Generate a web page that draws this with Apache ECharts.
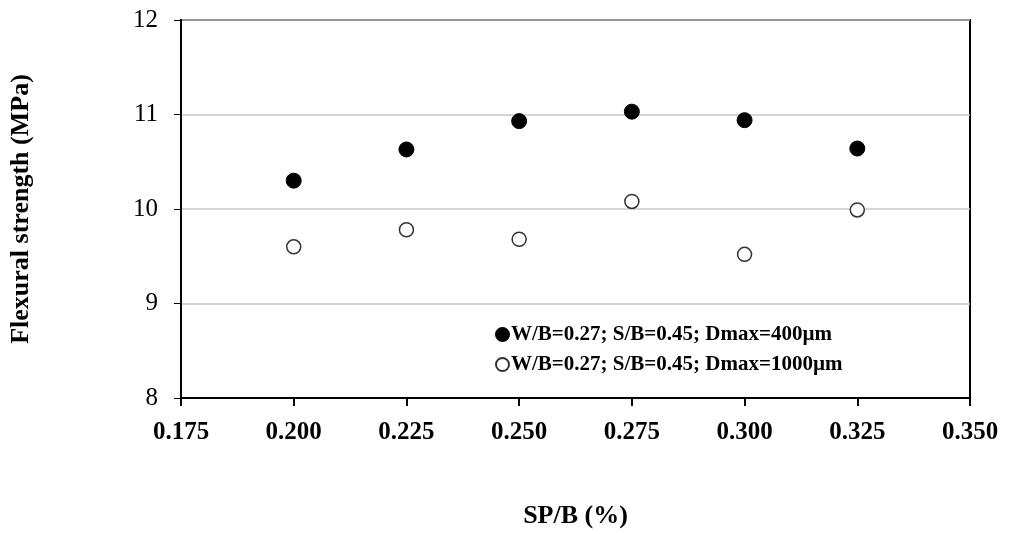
<!DOCTYPE html>
<html><head><meta charset="utf-8">
<script src="https://cdn.jsdelivr.net/npm/echarts@6/dist/echarts.min.js"></script>
<style>html,body{margin:0;padding:0;background:#fff}#c{width:1010px;height:534px}</style>
</head><body><div id="c"></div>
<script>
const xValues = [0.200, 0.225, 0.250, 0.275, 0.300, 0.325];
const series400 = [10.30, 10.63, 10.93, 11.03, 10.94, 10.64];
const series1000 = [9.60, 9.78, 9.68, 10.08, 9.52, 9.99];
const seriesNames = ['W/B=0.27; S/B=0.45; Dmax=400µm', 'W/B=0.27; S/B=0.45; Dmax=1000µm'];
const xTitle = 'SP/B (%)';
const yTitle = 'Flexural strength (MPa)';

const font = '"Liberation Serif","Times New Roman",serif';
const chart = echarts.init(document.getElementById('c'));
chart.setOption({
  animation: false,
  grid: {left: 180, right: 40, top: 20, bottom: 135, show: true, borderColor: '#000', borderWidth: 2, backgroundColor: 'transparent'},
  legend: {
    orient: 'vertical', left: 490, top: 319, itemGap: 9, itemWidth: 13, itemHeight: 13,
    textStyle: {fontFamily: font, fontWeight: 'bold', fontSize: 21, color: '#000', padding: [0, 0, 0, -3]},
    data: [{name: seriesNames[0], icon: 'circle'}, {name: seriesNames[1], icon: 'circle'}]
  },
  xAxis: {
    type: 'value', min: 0.175, max: 0.35, interval: 0.025,
    name: xTitle, nameLocation: 'middle', nameGap: 105,
    nameTextStyle: {fontFamily: font, fontWeight: 'bold', fontSize: 26, color: '#000'},
    axisLine: {show: true, lineStyle: {color: '#000', width: 2}},
    axisTick: {show: true, length: 8, lineStyle: {color: '#000', width: 2}},
    axisLabel: {fontFamily: font, fontWeight: 'bold', fontSize: 25, color: '#000', margin: 22, formatter: v => v.toFixed(3)},
    splitLine: {show: false}
  },
  yAxis: {
    type: 'value', min: 8, max: 12, interval: 1,
    name: yTitle, nameLocation: 'middle', nameGap: 147, nameRotate: 90,
    nameTextStyle: {fontFamily: font, fontWeight: 'bold', fontSize: 26, color: '#000'},
    axisLine: {show: true, lineStyle: {color: '#000', width: 2}},
    axisTick: {show: true, length: 7, lineStyle: {color: '#000', width: 1}},
    axisLabel: {fontFamily: font, fontSize: 25, color: '#000', margin: 23},
    splitLine: {show: true, lineStyle: {color: '#c8c8c8', width: 1.5}}
  },
  series: [
    {name: seriesNames[0], type: 'scatter', symbol: 'circle', symbolSize: 15,
     itemStyle: {color: '#000', borderColor: '#000', borderWidth: 1, opacity: 1},
     data: xValues.map((x, i) => [x, series400[i]])},
    {name: seriesNames[1], type: 'scatter', symbol: 'circle', symbolSize: 14,
     itemStyle: {color: '#fff', borderColor: '#333', borderWidth: 1.5, opacity: 1},
     data: xValues.map((x, i) => [x, series1000[i]])}
  ]
});
</script></body></html>
